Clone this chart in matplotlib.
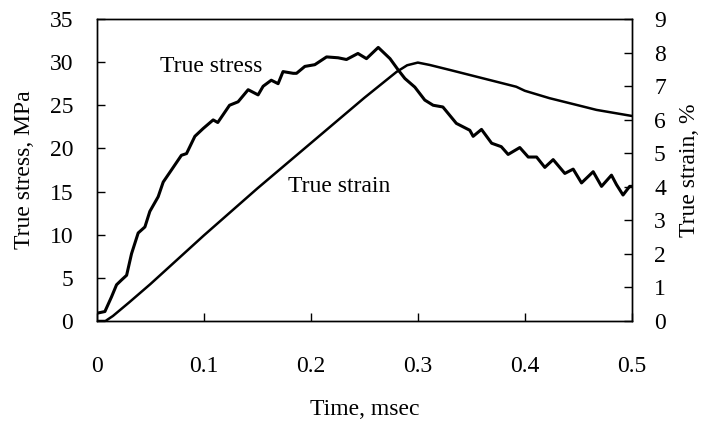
import matplotlib
matplotlib.use("Agg")
import matplotlib.pyplot as plt

plt.rcParams['font.family'] = ['Liberation Serif', 'DejaVu Serif']
plt.rcParams['font.size'] = 17

# True stress (MPa) vs time (msec)
t_stress = [0.000, 0.0075, 0.0137, 0.0184, 0.023, 0.0278, 0.0324, 0.0386,
            0.0449, 0.0495, 0.0573, 0.062, 0.0697, 0.079, 0.0838, 0.0916,
            0.0993, 0.1087, 0.113, 0.124, 0.132, 0.1414, 0.1507, 0.1554,
            0.163, 0.1694, 0.174, 0.1835, 0.1866, 0.1944, 0.2037, 0.2147,
            0.2255, 0.2333, 0.244, 0.252, 0.263, 0.274, 0.2816, 0.2879,
            0.2972, 0.3065, 0.3143, 0.3234, 0.336, 0.3486, 0.3517, 0.3595,
            0.369, 0.378, 0.3844, 0.3953, 0.4032, 0.411, 0.4187, 0.4265,
            0.4374, 0.4452, 0.453, 0.4639, 0.4717, 0.481, 0.4857, 0.4918,
            0.498, 0.500]
stress = [0.9, 1.1, 2.8, 4.2, 4.75, 5.3, 7.8, 10.2,
          10.9, 12.7, 14.4, 16.1, 17.5, 19.2, 19.4, 21.4,
          22.3, 23.3, 23.0, 25.0, 25.4, 26.8, 26.2, 27.2,
          27.9, 27.5, 28.9, 28.7, 28.7, 29.5, 29.7, 30.6,
          30.5, 30.3, 31.0, 30.4, 31.7, 30.4, 29.1, 28.1,
          27.1, 25.6, 25.0, 24.8, 22.9, 22.1, 21.4, 22.2,
          20.6, 20.2, 19.3, 20.1, 19.0, 19.0, 17.8, 18.7,
          17.1, 17.6, 16.0, 17.3, 15.6, 16.9, 15.8, 14.6,
          15.6, 15.6]

# True strain (%) vs time (msec)
t_strain = [0.0, 0.008, 0.015, 0.03, 0.05, 0.1, 0.15, 0.2, 0.25, 0.28,
            0.29, 0.30, 0.311, 0.33, 0.361, 0.392, 0.40, 0.423, 0.4545,
            0.467, 0.5]
strain = [0.0, 0.0, 0.15, 0.55, 1.1, 2.55, 3.95, 5.3, 6.65, 7.42,
          7.62, 7.70, 7.63, 7.48, 7.23, 6.98, 6.86, 6.64, 6.39,
          6.29, 6.11]

fig = plt.figure(figsize=(7.02, 4.21), dpi=100)
ax = fig.add_axes([0.138, 0.2375, 0.762, 0.7175])
ax2 = ax.twinx()

ax.plot(t_stress, stress, color='black', lw=2.2)
ax2.plot(t_strain, strain, color='black', lw=1.8)

ax.set_xlim(0, 0.5)
ax.set_ylim(0, 35)
ax2.set_ylim(0, 9)
ax.set_xticks([0, 0.1, 0.2, 0.3, 0.4, 0.5])
ax.set_xticklabels(['0', '0.1', '0.2', '0.3', '0.4', '0.5'])
ax.set_yticks(range(0, 36, 5))
ax2.set_yticks(range(0, 10))

ax.tick_params(axis='x', direction='in', length=6, width=1, pad=25, top=False)
ax.tick_params(axis='y', direction='in', length=6, width=1, pad=17)
ax2.tick_params(axis='y', direction='in', length=6, width=1, pad=16)
for a in (ax, ax2):
    for s in a.spines.values():
        s.set_linewidth(1.0)

ax.set_xlabel('Time, msec', va='baseline')
ax.set_ylabel('True stress, MPa', va='center')
ax2.set_ylabel('True strain, %', va='center', rotation=90)
ax.xaxis.set_label_coords(0.5, -0.312)
ax.yaxis.set_label_coords(-0.136, 0.5)
ax2.yaxis.set_label_coords(1.108, 0.5)

ax.text(0.059, 29.5, 'True stress', va='center', ha='left')
ax.text(0.1785, 15.6, 'True strain', va='center', ha='left')

plt.savefig('out.png', dpi=100)
